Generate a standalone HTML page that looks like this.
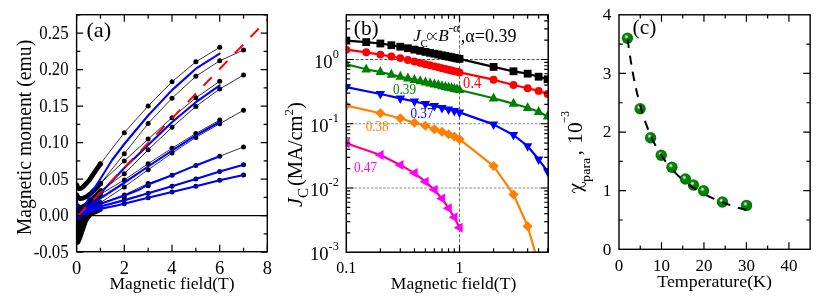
<!DOCTYPE html>
<html><head><meta charset="utf-8"><title>fig</title>
<style>
html,body{margin:0;padding:0;background:#fff;}
body{width:830px;height:297px;overflow:hidden;font-family:"Liberation Serif",serif;}
svg{display:block;will-change:transform;}
svg text{font-family:"Liberation Serif",serif;}
</style></head><body>
<svg width="830" height="297" viewBox="0 0 830 297">

<g id="pa">
<line x1="76.6" y1="215.6" x2="267.3" y2="215.6" stroke="#000" stroke-width="1.1"/>
<clipPath id="ca"><rect x="76.6" y="14.7" width="190.70000000000002" height="237.0"/></clipPath>
<g clip-path="url(#ca)">
<path d="M76.6,215 L94,213.8 L91.1,216.9 L87.7,221.9 L86,227 L84.3,232 L82.6,237.1 L81,241.3 L79.5,244 L78,244.9 L76.6,244.3 Z" fill="#000"/>
<path d="M76.90,185.00 L77.60,187.50 L79.00,188.70 L81.00,188.30 L83.50,186.30 L86.50,183.20 L89.40,180.00 L94.50,172.30 L100.40,163.90" fill="none" stroke="#000" stroke-width="4.8" stroke-linejoin="round" stroke-linecap="round" />
<path d="M76.90,195.00 L78.00,197.50 L80.00,198.60 L83.00,198.20 L87.00,196.30 L90.90,193.50 L95.50,188.80 L100.50,183.30" fill="none" stroke="#000" stroke-width="4.8" stroke-linejoin="round" stroke-linecap="round" />
<path d="M77.50,205.60 L79.00,207.10 L81.50,207.30 L84.50,205.90 L88.00,203.20 L93.40,198.20 L97.00,194.60 L101.00,190.80" fill="none" stroke="#000" stroke-width="4.8" stroke-linejoin="round" stroke-linecap="round" />
<path d="M78.00,216.00 L82.00,213.50 L85.00,210.50 L88.00,207.00 L92.00,203.20 L96.00,199.50 L100.50,194.60" fill="none" stroke="#000" stroke-width="4.8" stroke-linejoin="round" stroke-linecap="round" />
<path d="M80.00,216.00 L84.00,212.80 L88.00,209.50 L92.00,206.80 L96.00,204.60 L100.00,202.60" fill="none" stroke="#000" stroke-width="4.8" stroke-linejoin="round" stroke-linecap="round" />
<path d="M84.00,217.00 L90.00,214.00 L95.00,212.00 L100.00,209.80" fill="none" stroke="#000" stroke-width="4.8" stroke-linejoin="round" stroke-linecap="round" />
<path d="M77.50,209.00 L78.50,211.60 L80.50,212.30 L83.00,210.80 L86.00,208.00" fill="none" stroke="#000" stroke-width="4.8" stroke-linejoin="round" stroke-linecap="round" />
<path d="M100.40,163.90 L124.30,132.70 L148.15,106.00 L172.00,81.80 L195.85,61.85 L219.70,47.35" fill="none" stroke="#000" stroke-width="0.8" stroke-linejoin="round" stroke-linecap="round" />
<path d="M100.50,183.60 L124.30,153.70 L148.15,123.50 L172.00,98.20 L195.85,76.30 L219.70,60.80 L243.55,50.00" fill="none" stroke="#000" stroke-width="0.8" stroke-linejoin="round" stroke-linecap="round" />
<path d="M100.50,183.20 L124.30,160.90 L148.15,139.10 L172.00,117.65 L195.85,97.80 L219.70,81.30" fill="none" stroke="#000" stroke-width="0.8" stroke-linejoin="round" stroke-linecap="round" />
<path d="M101.00,190.80 L124.30,173.80 L148.15,149.80 L172.00,127.30 L195.85,106.40 L219.70,89.00 L243.55,75.00" fill="none" stroke="#000" stroke-width="0.8" stroke-linejoin="round" stroke-linecap="round" />
<path d="M100.50,194.20 L124.30,179.90 L148.15,163.70 L172.00,148.20 L195.85,133.50 L219.70,120.10" fill="none" stroke="#000" stroke-width="0.8" stroke-linejoin="round" stroke-linecap="round" />
<path d="M100.20,202.80 L124.30,186.90 L148.15,169.70 L172.00,153.10 L195.85,137.40 L219.70,123.70 L243.55,110.30" fill="none" stroke="#000" stroke-width="0.8" stroke-linejoin="round" stroke-linecap="round" />
<path d="M100.00,204.00 L124.30,194.90 L148.15,183.50 L172.00,175.20 L195.85,165.40 L219.70,156.25 L243.55,146.90" fill="none" stroke="#000" stroke-width="0.8" stroke-linejoin="round" stroke-linecap="round" />
<path d="M100.00,206.60 L124.30,199.40 L148.15,193.20 L172.00,186.30 L195.85,178.90 L219.70,171.60 L243.55,164.75" fill="none" stroke="#000" stroke-width="0.8" stroke-linejoin="round" stroke-linecap="round" />
<path d="M100.00,208.90 L124.30,203.80 L148.15,197.70 L172.00,191.90 L195.85,186.30 L219.70,180.20 L243.55,174.90" fill="none" stroke="#000" stroke-width="0.8" stroke-linejoin="round" stroke-linecap="round" />
<circle cx="100.40" cy="163.90" r="2.5" fill="#000"/>
<circle cx="124.30" cy="132.70" r="2.5" fill="#000"/>
<circle cx="148.15" cy="106.00" r="2.5" fill="#000"/>
<circle cx="172.00" cy="81.80" r="2.5" fill="#000"/>
<circle cx="195.85" cy="61.85" r="2.5" fill="#000"/>
<circle cx="219.70" cy="47.35" r="2.5" fill="#000"/>
<circle cx="100.50" cy="183.60" r="2.5" fill="#000"/>
<circle cx="124.30" cy="153.70" r="2.5" fill="#000"/>
<circle cx="148.15" cy="123.50" r="2.5" fill="#000"/>
<circle cx="172.00" cy="98.20" r="2.5" fill="#000"/>
<circle cx="195.85" cy="76.30" r="2.5" fill="#000"/>
<circle cx="219.70" cy="60.80" r="2.5" fill="#000"/>
<circle cx="243.55" cy="50.00" r="2.5" fill="#000"/>
<circle cx="100.50" cy="183.20" r="2.5" fill="#000"/>
<circle cx="124.30" cy="160.90" r="2.5" fill="#000"/>
<circle cx="148.15" cy="139.10" r="2.5" fill="#000"/>
<circle cx="172.00" cy="117.65" r="2.5" fill="#000"/>
<circle cx="195.85" cy="97.80" r="2.5" fill="#000"/>
<circle cx="219.70" cy="81.30" r="2.5" fill="#000"/>
<circle cx="101.00" cy="190.80" r="2.5" fill="#000"/>
<circle cx="124.30" cy="173.80" r="2.5" fill="#000"/>
<circle cx="148.15" cy="149.80" r="2.5" fill="#000"/>
<circle cx="172.00" cy="127.30" r="2.5" fill="#000"/>
<circle cx="195.85" cy="106.40" r="2.5" fill="#000"/>
<circle cx="219.70" cy="89.00" r="2.5" fill="#000"/>
<circle cx="243.55" cy="75.00" r="2.5" fill="#000"/>
<circle cx="100.50" cy="194.20" r="2.5" fill="#000"/>
<circle cx="124.30" cy="179.90" r="2.5" fill="#000"/>
<circle cx="148.15" cy="163.70" r="2.5" fill="#000"/>
<circle cx="172.00" cy="148.20" r="2.5" fill="#000"/>
<circle cx="195.85" cy="133.50" r="2.5" fill="#000"/>
<circle cx="219.70" cy="120.10" r="2.5" fill="#000"/>
<circle cx="100.20" cy="202.80" r="2.5" fill="#000"/>
<circle cx="124.30" cy="186.90" r="2.5" fill="#000"/>
<circle cx="148.15" cy="169.70" r="2.5" fill="#000"/>
<circle cx="172.00" cy="153.10" r="2.5" fill="#000"/>
<circle cx="195.85" cy="137.40" r="2.5" fill="#000"/>
<circle cx="219.70" cy="123.70" r="2.5" fill="#000"/>
<circle cx="243.55" cy="110.30" r="2.5" fill="#000"/>
<circle cx="100.00" cy="204.00" r="2.5" fill="#000"/>
<circle cx="124.30" cy="194.90" r="2.5" fill="#000"/>
<circle cx="148.15" cy="183.50" r="2.5" fill="#000"/>
<circle cx="172.00" cy="175.20" r="2.5" fill="#000"/>
<circle cx="195.85" cy="165.40" r="2.5" fill="#000"/>
<circle cx="219.70" cy="156.25" r="2.5" fill="#000"/>
<circle cx="243.55" cy="146.90" r="2.5" fill="#000"/>
<circle cx="100.00" cy="206.60" r="2.5" fill="#000"/>
<circle cx="124.30" cy="199.40" r="2.5" fill="#000"/>
<circle cx="148.15" cy="193.20" r="2.5" fill="#000"/>
<circle cx="172.00" cy="186.30" r="2.5" fill="#000"/>
<circle cx="195.85" cy="178.90" r="2.5" fill="#000"/>
<circle cx="219.70" cy="171.60" r="2.5" fill="#000"/>
<circle cx="243.55" cy="164.75" r="2.5" fill="#000"/>
<circle cx="100.00" cy="208.90" r="2.5" fill="#000"/>
<circle cx="124.30" cy="203.80" r="2.5" fill="#000"/>
<circle cx="148.15" cy="197.70" r="2.5" fill="#000"/>
<circle cx="172.00" cy="191.90" r="2.5" fill="#000"/>
<circle cx="195.85" cy="186.30" r="2.5" fill="#000"/>
<circle cx="219.70" cy="180.20" r="2.5" fill="#000"/>
<circle cx="243.55" cy="174.90" r="2.5" fill="#000"/>
<circle cx="148.15" cy="185.70" r="2.5" fill="#000"/>
<circle cx="124.30" cy="196.40" r="2.5" fill="#000"/>
<path d="M77.10,200.00 L77.30,210.00 L77.60,218.80" fill="none" stroke="#0000ff" stroke-width="2.0" stroke-linejoin="round" stroke-linecap="round" />
<path d="M77.60,218.80 L88.50,199.00 L97.10,184.00 L99.70,180.00 L112.10,160.00 L124.30,144.00 L148.15,115.50 L172.00,90.10 L195.85,68.70 L219.70,53.70" fill="none" stroke="#0000ff" stroke-width="2.1" stroke-linejoin="round" stroke-linecap="round" />
<path d="M77.60,218.80 L100.45,193.30 L124.30,168.00 L148.15,144.90 L172.00,122.20 L195.85,102.20 L219.70,85.30" fill="none" stroke="#0000ff" stroke-width="2.1" stroke-linejoin="round" stroke-linecap="round" />
<path d="M77.60,218.80 L88.00,208.60 L100.00,198.70 L122.40,184.00 L148.15,166.50 L172.00,150.60 L195.85,135.30 L219.70,122.00" fill="none" stroke="#0000ff" stroke-width="2.1" stroke-linejoin="round" stroke-linecap="round" />
<path d="M77.60,218.80 L82.10,214.60 L88.00,210.30 L92.20,208.00 L100.00,204.00 L118.00,197.80 L123.90,195.80 L139.00,189.80 L148.15,184.40 L172.00,175.20 L195.85,165.40 L219.70,156.25" fill="none" stroke="#0000ff" stroke-width="2.1" stroke-linejoin="round" stroke-linecap="round" />
<path d="M77.60,218.80 L82.10,215.00 L88.00,211.20 L92.20,209.40 L100.00,206.60 L118.00,202.10 L123.90,200.60 L148.15,193.20 L172.00,186.30 L195.85,178.90 L219.70,171.60 L243.55,164.75" fill="none" stroke="#0000ff" stroke-width="2.1" stroke-linejoin="round" stroke-linecap="round" />
<path d="M77.60,218.80 L82.10,215.40 L88.00,212.30 L92.20,211.00 L100.00,208.90 L118.00,205.20 L123.90,203.80 L148.15,197.70 L172.00,191.90 L195.85,186.30 L219.70,180.20 L243.55,174.90" fill="none" stroke="#0000ff" stroke-width="2.1" stroke-linejoin="round" stroke-linecap="round" />
<line x1="77.8" y1="215.8" x2="267.2" y2="19.8" stroke="#ff0000" stroke-width="1.9" stroke-dasharray="11.9 10.7"/>
</g>
<rect x="76.6" y="14.7" width="190.70000000000002" height="237.0" fill="none" stroke="#000" stroke-width="1.4"/>
<path d="M76.60,251.7 v-7 M76.60,14.7 v7 M100.45,251.7 v-4 M100.45,14.7 v4 M124.30,251.7 v-7 M124.30,14.7 v7 M148.15,251.7 v-4 M148.15,14.7 v4 M172.00,251.7 v-7 M172.00,14.7 v7 M195.85,251.7 v-4 M195.85,14.7 v4 M219.70,251.7 v-7 M219.70,14.7 v7 M243.55,251.7 v-4 M243.55,14.7 v4 M267.40,251.7 v-7 M267.40,14.7 v7 M76.6,252.10 h6.6 M267.3,252.10 h-6.6 M76.6,233.85 h3.7 M267.3,233.85 h-3.7 M76.6,215.60 h6.6 M267.3,215.60 h-6.6 M76.6,197.35 h3.7 M267.3,197.35 h-3.7 M76.6,179.10 h6.6 M267.3,179.10 h-6.6 M76.6,160.85 h3.7 M267.3,160.85 h-3.7 M76.6,142.60 h6.6 M267.3,142.60 h-6.6 M76.6,124.35 h3.7 M267.3,124.35 h-3.7 M76.6,106.10 h6.6 M267.3,106.10 h-6.6 M76.6,87.85 h3.7 M267.3,87.85 h-3.7 M76.6,69.60 h6.6 M267.3,69.60 h-6.6 M76.6,51.35 h3.7 M267.3,51.35 h-3.7 M76.6,33.10 h6.6 M267.3,33.10 h-6.6 M76.6,14.85 h3.7 M267.3,14.85 h-3.7" stroke="#000" stroke-width="1.2" fill="none"/>
<text transform="translate(68.60,257.70) scale(0.97,1.07)" font-size="17.3" text-anchor="end" fill="#000" >-0.05</text>
<text transform="translate(68.60,221.20) scale(0.97,1.07)" font-size="17.3" text-anchor="end" fill="#000" >0.00</text>
<text transform="translate(68.60,184.70) scale(0.97,1.07)" font-size="17.3" text-anchor="end" fill="#000" >0.05</text>
<text transform="translate(68.60,148.20) scale(0.97,1.07)" font-size="17.3" text-anchor="end" fill="#000" >0.10</text>
<text transform="translate(68.60,111.70) scale(0.97,1.07)" font-size="17.3" text-anchor="end" fill="#000" >0.15</text>
<text transform="translate(68.60,75.20) scale(0.97,1.07)" font-size="17.3" text-anchor="end" fill="#000" >0.20</text>
<text transform="translate(68.60,38.70) scale(0.97,1.07)" font-size="17.3" text-anchor="end" fill="#000" >0.25</text>
<text transform="translate(76.60,273.90) scale(1.07,1.09)" font-size="17.3" text-anchor="middle" fill="#000" >0</text>
<text transform="translate(124.30,273.90) scale(1.07,1.09)" font-size="17.3" text-anchor="middle" fill="#000" >2</text>
<text transform="translate(172.00,273.90) scale(1.07,1.09)" font-size="17.3" text-anchor="middle" fill="#000" >4</text>
<text transform="translate(219.70,273.90) scale(1.07,1.09)" font-size="17.3" text-anchor="middle" fill="#000" >6</text>
<text transform="translate(267.40,273.90) scale(1.07,1.09)" font-size="17.3" text-anchor="middle" fill="#000" >8</text>
<text transform="translate(109.40,288.80) scale(1,1)" font-size="17.3" text-anchor="start" fill="#000" textLength="125.3" lengthAdjust="spacingAndGlyphs" >Magnetic field(T)</text>
<text transform="translate(30.6,235.3) rotate(-90)" font-size="20" textLength="195.5" lengthAdjust="spacingAndGlyphs">Magnetic moment (emu)</text>
<text transform="translate(86.40,37.40) scale(1.1,1)" font-size="20.4" text-anchor="start" fill="#000" >(a)</text>
</g>
<g id="pb">
<path d="M346.3,59.50 H548.2" stroke="#222" stroke-width="0.8" stroke-dasharray="3 1.75" fill="none"/>
<path d="M346.3,123.75 H548.2 M346.3,188.00 H548.2" stroke="#868686" stroke-width="1.2" stroke-dasharray="2.5 1.6" fill="none"/>
<path d="M459.50,14.8 V252.2" stroke="#2a2a2a" stroke-width="0.7" stroke-dasharray="3.2 1.9" fill="none"/>
<clipPath id="cb"><rect x="345.8" y="14.8" width="203.10000000000002" height="237.39999999999998"/></clipPath>
<g clip-path="url(#cb)">
<path d="M346.30,143.20 L380.38,155.00 L400.31,164.90 L414.45,173.10 L425.42,181.70 L434.39,189.80 L441.97,198.60 L448.53,208.20 L454.32,217.30 L459.50,227.70" fill="none" stroke="#ff0080" stroke-width="2.2" stroke-linejoin="round" stroke-linecap="round" />
<path d="M340.50,143.20 L349.50,138.20 L349.50,148.20 Z" fill="#ff00ff"/>
<path d="M374.58,155.00 L383.58,150.00 L383.58,160.00 Z" fill="#ff00ff"/>
<path d="M394.51,164.90 L403.51,159.90 L403.51,169.90 Z" fill="#ff00ff"/>
<path d="M408.65,173.10 L417.65,168.10 L417.65,178.10 Z" fill="#ff00ff"/>
<path d="M419.62,181.70 L428.62,176.70 L428.62,186.70 Z" fill="#ff00ff"/>
<path d="M428.59,189.80 L437.59,184.80 L437.59,194.80 Z" fill="#ff00ff"/>
<path d="M436.17,198.60 L445.17,193.60 L445.17,203.60 Z" fill="#ff00ff"/>
<path d="M442.73,208.20 L451.73,203.20 L451.73,213.20 Z" fill="#ff00ff"/>
<path d="M448.52,217.30 L457.52,212.30 L457.52,222.30 Z" fill="#ff00ff"/>
<path d="M453.70,227.70 L462.70,222.70 L462.70,232.70 Z" fill="#ff00ff"/>
<path d="M346.30,105.60 L380.38,113.20 L400.31,118.20 L414.45,122.70 L425.42,125.70 L434.39,129.20 L441.97,131.80 L448.53,134.30 L454.32,136.60 L459.50,139.20 L493.58,166.10 L513.51,194.40 L527.65,226.30 L535.10,252.20" fill="none" stroke="#ff8000" stroke-width="2.2" stroke-linejoin="round" stroke-linecap="round" />
<path d="M346.30,100.60 L351.50,105.60 L346.30,110.60 L341.10,105.60 Z" fill="#ff8000"/>
<path d="M380.38,108.20 L385.58,113.20 L380.38,118.20 L375.18,113.20 Z" fill="#ff8000"/>
<path d="M400.31,113.20 L405.51,118.20 L400.31,123.20 L395.11,118.20 Z" fill="#ff8000"/>
<path d="M414.45,117.70 L419.65,122.70 L414.45,127.70 L409.25,122.70 Z" fill="#ff8000"/>
<path d="M425.42,120.70 L430.62,125.70 L425.42,130.70 L420.22,125.70 Z" fill="#ff8000"/>
<path d="M434.39,124.20 L439.59,129.20 L434.39,134.20 L429.19,129.20 Z" fill="#ff8000"/>
<path d="M441.97,126.80 L447.17,131.80 L441.97,136.80 L436.77,131.80 Z" fill="#ff8000"/>
<path d="M448.53,129.30 L453.73,134.30 L448.53,139.30 L443.33,134.30 Z" fill="#ff8000"/>
<path d="M454.32,131.60 L459.52,136.60 L454.32,141.60 L449.12,136.60 Z" fill="#ff8000"/>
<path d="M459.50,134.20 L464.70,139.20 L459.50,144.20 L454.30,139.20 Z" fill="#ff8000"/>
<path d="M493.58,161.10 L498.78,166.10 L493.58,171.10 L488.38,166.10 Z" fill="#ff8000"/>
<path d="M513.51,189.40 L518.71,194.40 L513.51,199.40 L508.31,194.40 Z" fill="#ff8000"/>
<path d="M527.65,221.30 L532.85,226.30 L527.65,231.30 L522.45,226.30 Z" fill="#ff8000"/>
<path d="M346.30,87.20 L380.38,94.00 L400.31,98.40 L414.45,101.50 L425.42,103.90 L434.39,106.00 L441.97,108.00 L448.53,109.50 L454.32,111.00 L459.50,112.40 L493.58,124.40 L513.51,135.00 L527.65,146.20 L538.62,159.30 L547.59,171.50" fill="none" stroke="#0000ff" stroke-width="2.2" stroke-linejoin="round" stroke-linecap="round" />
<path d="M346.30,92.80 L351.00,84.30 L341.60,84.30 Z" fill="#0000ff"/>
<path d="M380.38,99.60 L385.08,91.10 L375.68,91.10 Z" fill="#0000ff"/>
<path d="M400.31,104.00 L405.01,95.50 L395.61,95.50 Z" fill="#0000ff"/>
<path d="M414.45,107.10 L419.15,98.60 L409.75,98.60 Z" fill="#0000ff"/>
<path d="M425.42,109.50 L430.12,101.00 L420.72,101.00 Z" fill="#0000ff"/>
<path d="M434.39,111.60 L439.09,103.10 L429.69,103.10 Z" fill="#0000ff"/>
<path d="M441.97,113.60 L446.67,105.10 L437.27,105.10 Z" fill="#0000ff"/>
<path d="M448.53,115.10 L453.23,106.60 L443.83,106.60 Z" fill="#0000ff"/>
<path d="M454.32,116.60 L459.02,108.10 L449.62,108.10 Z" fill="#0000ff"/>
<path d="M459.50,118.00 L464.20,109.50 L454.80,109.50 Z" fill="#0000ff"/>
<path d="M493.58,130.00 L498.28,121.50 L488.88,121.50 Z" fill="#0000ff"/>
<path d="M513.51,140.60 L518.21,132.10 L508.81,132.10 Z" fill="#0000ff"/>
<path d="M527.65,151.80 L532.35,143.30 L522.95,143.30 Z" fill="#0000ff"/>
<path d="M538.62,164.90 L543.32,156.40 L533.92,156.40 Z" fill="#0000ff"/>
<path d="M547.59,177.10 L552.29,168.60 L542.89,168.60 Z" fill="#0000ff"/>
<path d="M346.30,64.20 L366.23,69.30 L380.38,72.00 L391.35,74.60 L400.31,76.70 L407.89,78.40 L414.45,79.88 L420.24,81.18 L425.42,82.34 L430.11,83.40 L434.39,84.36 L438.32,85.24 L441.97,86.06 L445.36,86.82 L448.53,87.53 L451.51,88.20 L454.32,88.84 L456.98,89.43 L459.50,90.00 L493.58,98.30 L513.51,103.70 L527.65,107.80 L538.62,111.80 L547.59,116.50" fill="none" stroke="#008000" stroke-width="2.2" stroke-linejoin="round" stroke-linecap="round" />
<path d="M346.30,58.30 L351.10,67.30 L341.50,67.30 Z" fill="#008000"/>
<path d="M366.23,63.40 L371.03,72.40 L361.43,72.40 Z" fill="#008000"/>
<path d="M380.38,66.10 L385.18,75.10 L375.58,75.10 Z" fill="#008000"/>
<path d="M391.35,68.70 L396.15,77.70 L386.55,77.70 Z" fill="#008000"/>
<path d="M400.31,70.80 L405.11,79.80 L395.51,79.80 Z" fill="#008000"/>
<path d="M407.89,72.50 L412.69,81.50 L403.09,81.50 Z" fill="#008000"/>
<path d="M414.45,73.98 L419.25,82.98 L409.65,82.98 Z" fill="#008000"/>
<path d="M420.24,75.28 L425.04,84.28 L415.44,84.28 Z" fill="#008000"/>
<path d="M425.42,76.44 L430.22,85.44 L420.62,85.44 Z" fill="#008000"/>
<path d="M430.11,77.50 L434.91,86.50 L425.31,86.50 Z" fill="#008000"/>
<path d="M434.39,78.46 L439.19,87.46 L429.59,87.46 Z" fill="#008000"/>
<path d="M438.32,79.34 L443.12,88.34 L433.52,88.34 Z" fill="#008000"/>
<path d="M441.97,80.16 L446.77,89.16 L437.17,89.16 Z" fill="#008000"/>
<path d="M445.36,80.92 L450.16,89.92 L440.56,89.92 Z" fill="#008000"/>
<path d="M448.53,81.63 L453.33,90.63 L443.73,90.63 Z" fill="#008000"/>
<path d="M451.51,82.30 L456.31,91.30 L446.71,91.30 Z" fill="#008000"/>
<path d="M454.32,82.94 L459.12,91.94 L449.52,91.94 Z" fill="#008000"/>
<path d="M456.98,83.53 L461.78,92.53 L452.18,92.53 Z" fill="#008000"/>
<path d="M459.50,84.10 L464.30,93.10 L454.70,93.10 Z" fill="#008000"/>
<path d="M493.58,92.40 L498.38,101.40 L488.78,101.40 Z" fill="#008000"/>
<path d="M513.51,97.80 L518.31,106.80 L508.71,106.80 Z" fill="#008000"/>
<path d="M527.65,101.90 L532.45,110.90 L522.85,110.90 Z" fill="#008000"/>
<path d="M538.62,105.90 L543.42,114.90 L533.82,114.90 Z" fill="#008000"/>
<path d="M547.59,110.60 L552.39,119.60 L542.79,119.60 Z" fill="#008000"/>
<path d="M346.30,49.70 L366.23,52.30 L380.38,54.60 L391.35,56.50 L400.31,58.10 L407.89,59.93 L414.45,61.52 L420.24,62.92 L425.42,64.17 L430.11,65.30 L434.39,66.33 L438.32,67.28 L441.97,68.16 L445.36,68.98 L448.53,69.75 L451.51,70.47 L454.32,71.15 L456.98,71.79 L459.50,72.40 L493.58,79.70 L513.51,85.00 L527.65,88.20 L538.62,90.90 L547.59,94.00" fill="none" stroke="#ff0000" stroke-width="2.2" stroke-linejoin="round" stroke-linecap="round" />
<circle cx="346.30" cy="49.70" r="3.95" fill="#ff0000"/>
<circle cx="366.23" cy="52.30" r="3.95" fill="#ff0000"/>
<circle cx="380.38" cy="54.60" r="3.95" fill="#ff0000"/>
<circle cx="391.35" cy="56.50" r="3.95" fill="#ff0000"/>
<circle cx="400.31" cy="58.10" r="3.95" fill="#ff0000"/>
<circle cx="407.89" cy="59.93" r="3.95" fill="#ff0000"/>
<circle cx="414.45" cy="61.52" r="3.95" fill="#ff0000"/>
<circle cx="420.24" cy="62.92" r="3.95" fill="#ff0000"/>
<circle cx="425.42" cy="64.17" r="3.95" fill="#ff0000"/>
<circle cx="430.11" cy="65.30" r="3.95" fill="#ff0000"/>
<circle cx="434.39" cy="66.33" r="3.95" fill="#ff0000"/>
<circle cx="438.32" cy="67.28" r="3.95" fill="#ff0000"/>
<circle cx="441.97" cy="68.16" r="3.95" fill="#ff0000"/>
<circle cx="445.36" cy="68.98" r="3.95" fill="#ff0000"/>
<circle cx="448.53" cy="69.75" r="3.95" fill="#ff0000"/>
<circle cx="451.51" cy="70.47" r="3.95" fill="#ff0000"/>
<circle cx="454.32" cy="71.15" r="3.95" fill="#ff0000"/>
<circle cx="456.98" cy="71.79" r="3.95" fill="#ff0000"/>
<circle cx="459.50" cy="72.40" r="3.95" fill="#ff0000"/>
<circle cx="493.58" cy="79.70" r="3.95" fill="#ff0000"/>
<circle cx="513.51" cy="85.00" r="3.95" fill="#ff0000"/>
<circle cx="527.65" cy="88.20" r="3.95" fill="#ff0000"/>
<circle cx="538.62" cy="90.90" r="3.95" fill="#ff0000"/>
<circle cx="547.59" cy="94.00" r="3.95" fill="#ff0000"/>
<path d="M346.30,40.60 L366.23,42.10 L380.38,43.50 L391.35,45.20 L400.31,46.70 L407.89,48.26 L414.45,49.62 L420.24,50.81 L425.42,51.88 L430.11,52.84 L434.39,53.72 L438.32,54.53 L441.97,55.29 L445.36,55.98 L448.53,56.64 L451.51,57.25 L454.32,57.83 L456.98,58.38 L459.50,58.90 L493.58,66.90 L513.51,71.30 L527.65,73.70 L538.62,76.70 L547.59,79.30" fill="none" stroke="#000" stroke-width="2.2" stroke-linejoin="round" stroke-linecap="round" />
<rect x="342.40" y="36.70" width="7.8" height="7.8" fill="#000"/>
<rect x="362.33" y="38.20" width="7.8" height="7.8" fill="#000"/>
<rect x="376.48" y="39.60" width="7.8" height="7.8" fill="#000"/>
<rect x="387.45" y="41.30" width="7.8" height="7.8" fill="#000"/>
<rect x="396.41" y="42.80" width="7.8" height="7.8" fill="#000"/>
<rect x="403.99" y="44.36" width="7.8" height="7.8" fill="#000"/>
<rect x="410.55" y="45.72" width="7.8" height="7.8" fill="#000"/>
<rect x="416.34" y="46.91" width="7.8" height="7.8" fill="#000"/>
<rect x="421.52" y="47.98" width="7.8" height="7.8" fill="#000"/>
<rect x="426.21" y="48.94" width="7.8" height="7.8" fill="#000"/>
<rect x="430.49" y="49.82" width="7.8" height="7.8" fill="#000"/>
<rect x="434.42" y="50.63" width="7.8" height="7.8" fill="#000"/>
<rect x="438.07" y="51.39" width="7.8" height="7.8" fill="#000"/>
<rect x="441.46" y="52.08" width="7.8" height="7.8" fill="#000"/>
<rect x="444.63" y="52.74" width="7.8" height="7.8" fill="#000"/>
<rect x="447.61" y="53.35" width="7.8" height="7.8" fill="#000"/>
<rect x="450.42" y="53.93" width="7.8" height="7.8" fill="#000"/>
<rect x="453.08" y="54.48" width="7.8" height="7.8" fill="#000"/>
<rect x="455.60" y="55.00" width="7.8" height="7.8" fill="#000"/>
<rect x="489.68" y="63.00" width="7.8" height="7.8" fill="#000"/>
<rect x="509.61" y="67.40" width="7.8" height="7.8" fill="#000"/>
<rect x="523.75" y="69.80" width="7.8" height="7.8" fill="#000"/>
<rect x="534.72" y="72.80" width="7.8" height="7.8" fill="#000"/>
<rect x="543.69" y="75.40" width="7.8" height="7.8" fill="#000"/>
</g>
<rect x="346.3" y="14.8" width="201.90000000000003" height="237.39999999999998" fill="none" stroke="#000" stroke-width="1.5"/>
<path d="M380.38,252.2 v-4 M380.38,14.8 v4 M400.31,252.2 v-4 M400.31,14.8 v4 M414.45,252.2 v-4 M414.45,14.8 v4 M425.42,252.2 v-4 M425.42,14.8 v4 M434.39,252.2 v-4 M434.39,14.8 v4 M441.97,252.2 v-4 M441.97,14.8 v4 M448.53,252.2 v-4 M448.53,14.8 v4 M454.32,252.2 v-4 M454.32,14.8 v4 M459.50,252.2 v-6.8 M459.50,14.8 v6.8 M493.58,252.2 v-4 M493.58,14.8 v4 M513.51,252.2 v-4 M513.51,14.8 v4 M527.65,252.2 v-4 M527.65,14.8 v4 M538.62,252.2 v-4 M538.62,14.8 v4 M547.59,252.2 v-4 M547.59,14.8 v4 M346.3,232.91 h4 M548.2,232.91 h-4 M346.3,221.59 h4 M548.2,221.59 h-4 M346.3,213.57 h4 M548.2,213.57 h-4 M346.3,207.34 h4 M548.2,207.34 h-4 M346.3,202.25 h4 M548.2,202.25 h-4 M346.3,197.95 h4 M548.2,197.95 h-4 M346.3,194.23 h4 M548.2,194.23 h-4 M346.3,190.94 h4 M548.2,190.94 h-4 M346.3,188.00 h7.2 M548.2,188.00 h-7.2 M346.3,168.66 h4 M548.2,168.66 h-4 M346.3,157.34 h4 M548.2,157.34 h-4 M346.3,149.32 h4 M548.2,149.32 h-4 M346.3,143.09 h4 M548.2,143.09 h-4 M346.3,138.00 h4 M548.2,138.00 h-4 M346.3,133.70 h4 M548.2,133.70 h-4 M346.3,129.98 h4 M548.2,129.98 h-4 M346.3,126.69 h4 M548.2,126.69 h-4 M346.3,123.75 h7.2 M548.2,123.75 h-7.2 M346.3,104.41 h4 M548.2,104.41 h-4 M346.3,93.09 h4 M548.2,93.09 h-4 M346.3,85.07 h4 M548.2,85.07 h-4 M346.3,78.84 h4 M548.2,78.84 h-4 M346.3,73.75 h4 M548.2,73.75 h-4 M346.3,69.45 h4 M548.2,69.45 h-4 M346.3,65.73 h4 M548.2,65.73 h-4 M346.3,62.44 h4 M548.2,62.44 h-4 M346.3,59.50 h7.2 M548.2,59.50 h-7.2 M346.3,40.16 h4 M548.2,40.16 h-4 M346.3,28.84 h4 M548.2,28.84 h-4 M346.3,20.82 h4 M548.2,20.82 h-4" stroke="#000" stroke-width="1.2" fill="none"/>
<text x="338.8" y="67.50" font-size="18.6" text-anchor="end">10<tspan font-size="12.3" dy="-9.8">0</tspan></text>
<text x="338.8" y="131.75" font-size="18.6" text-anchor="end">10<tspan font-size="12.3" dy="-9.8">-1</tspan></text>
<text x="338.8" y="196.00" font-size="18.6" text-anchor="end">10<tspan font-size="12.3" dy="-9.8">-2</tspan></text>
<text x="338.8" y="260.25" font-size="18.6" text-anchor="end">10<tspan font-size="12.3" dy="-9.8">-3</tspan></text>
<text transform="translate(346.30,272.80) scale(1,1.08)" font-size="16" text-anchor="middle" fill="#000" >0.1</text>
<text transform="translate(459.50,272.60) scale(1,1.08)" font-size="16" text-anchor="middle" fill="#000" >1</text>
<text transform="translate(390.80,289.00) scale(1,1)" font-size="17.3" text-anchor="start" fill="#000" textLength="125.5" lengthAdjust="spacingAndGlyphs" >Magnetic field(T)</text>
<text transform="translate(353.80,34.70) scale(1,1)" font-size="20.5" text-anchor="start" fill="#000" textLength="24.9" lengthAdjust="spacingAndGlyphs" >(b)</text>
<text transform="translate(463.10,88.40) scale(1,1.17)" font-size="13.4" text-anchor="start" fill="#ff0000" textLength="18.2" lengthAdjust="spacingAndGlyphs" >0.4</text>
<text transform="translate(393.00,93.50) scale(1,1.17)" font-size="13" text-anchor="start" fill="#008000" textLength="23" lengthAdjust="spacingAndGlyphs" >0.39</text>
<text transform="translate(410.50,117.60) scale(1,1.17)" font-size="13" text-anchor="start" fill="#0000ff" textLength="23" lengthAdjust="spacingAndGlyphs" >0.37</text>
<text transform="translate(365.80,130.80) scale(1,1.17)" font-size="13" text-anchor="start" fill="#ff8000" textLength="22.8" lengthAdjust="spacingAndGlyphs" >0.38</text>
<text transform="translate(354.00,171.70) scale(1,1.17)" font-size="13" text-anchor="start" fill="#ff00ff" textLength="23" lengthAdjust="spacingAndGlyphs" >0.47</text>
<text x="413.3" y="41.3" font-size="17.2" font-style="italic">J</text>
<text x="420.4" y="47.2" font-size="11">C</text>
<path d="M436.9,33.1 C433.4,33.1 432,39.6 429.7,39.6 C428,39.6 427.4,37.8 427.4,36.35 C427.4,34.9 428,33.1 429.7,33.1 C432,33.1 433.4,39.6 436.9,39.6" fill="none" stroke="#000" stroke-width="0.95"/>
<text x="438.2" y="41.3" font-size="17.2" font-style="italic">B</text>
<text x="448.8" y="31.6" font-size="12.5">-α</text>
<text transform="translate(460.80,41.70) scale(1,1.07)" font-size="17.6" text-anchor="start" fill="#000" textLength="55.8" lengthAdjust="spacingAndGlyphs" >,α=0.39</text>
<text transform="translate(301.6,207.0) rotate(-90)" font-size="20.5"><tspan font-style="italic">J</tspan><tspan font-size="15" dy="6.5">C</tspan><tspan dy="-6.5" dx="1.8">(MA/cm</tspan><tspan font-size="13" dy="-8.5">2</tspan><tspan dy="8.5">)</tspan></text>
</g>
<g id="pc">
<defs><radialGradient id="sg" cx="0.42" cy="0.38" r="0.5" fx="0.40" fy="0.36"><stop offset="0" stop-color="#f4faf4"/><stop offset="0.10" stop-color="#d4ead4"/><stop offset="0.38" stop-color="#0c860c"/><stop offset="1" stop-color="#007a00"/></radialGradient></defs>
<circle cx="627.4" cy="38.2" r="5.7" fill="url(#sg)"/>
<circle cx="640.1" cy="108.7" r="5.7" fill="url(#sg)"/>
<circle cx="650.6" cy="137.8" r="5.7" fill="url(#sg)"/>
<circle cx="661.25" cy="155.3" r="5.7" fill="url(#sg)"/>
<circle cx="671.9" cy="167.2" r="5.7" fill="url(#sg)"/>
<circle cx="685.4" cy="179" r="5.7" fill="url(#sg)"/>
<circle cx="693.45" cy="185" r="5.7" fill="url(#sg)"/>
<circle cx="703.55" cy="190.8" r="5.7" fill="url(#sg)"/>
<circle cx="722.4" cy="202" r="5.7" fill="url(#sg)"/>
<circle cx="746.5" cy="205.4" r="5.7" fill="url(#sg)"/>
<path d="M627.50,38.27 L628.56,46.20 L629.62,53.56 L630.68,60.40 L631.74,66.79 L632.80,72.75 L633.87,78.34 L634.93,83.58 L635.99,88.51 L637.05,93.16 L638.11,97.55 L639.18,101.69 L640.24,105.62 L641.30,109.34 L642.36,112.88 L643.42,116.24 L644.49,119.43 L645.55,122.48 L646.61,125.39 L647.67,128.17 L648.73,130.83 L649.79,133.37 L650.86,135.80 L651.92,138.14 L652.98,140.38 L654.04,142.53 L655.10,144.60 L656.17,146.59 L657.23,148.51 L658.29,150.35 L659.35,152.13 L660.41,153.85 L661.48,155.51 L662.54,157.11 L663.60,158.66 L664.66,160.15 L665.72,161.60 L666.78,163.00 L667.85,164.36 L668.91,165.67 L669.97,166.95 L671.03,168.18 L672.09,169.38 L673.16,170.55 L674.22,171.68 L675.28,172.78 L676.34,173.85 L677.40,174.89 L678.47,175.90 L679.53,176.88 L680.59,177.84 L681.65,178.77 L682.71,179.68 L683.77,180.57 L684.84,181.43 L685.90,182.27 L686.96,183.09 L688.02,183.90 L689.08,184.68 L690.15,185.44 L691.21,186.19 L692.27,186.92 L693.33,187.63 L694.39,188.32 L695.46,189.01 L696.52,189.67 L697.58,190.32 L698.64,190.96 L699.70,191.58 L700.76,192.19 L701.83,192.79 L702.89,193.37 L703.95,193.95 L705.01,194.51 L706.07,195.06 L707.14,195.60 L708.20,196.13 L709.26,196.64 L710.32,197.15 L711.38,197.65 L712.44,198.14 L713.51,198.62 L714.57,199.09 L715.63,199.55 L716.69,200.01 L717.75,200.45 L718.82,200.89 L719.88,201.32 L720.94,201.74 L722.00,202.16 L723.06,202.57 L724.13,202.97 L725.19,203.36 L726.25,203.75 L727.31,204.13 L728.37,204.50 L729.43,204.87 L730.50,205.23 L731.56,205.59 L732.62,205.94 L733.68,206.29 L734.74,206.63 L735.81,206.96 L736.87,207.29 L737.93,207.61 L738.99,207.93 L740.05,208.25 L741.12,208.56 L742.18,208.86 L743.24,209.16 L744.30,209.46 L745.36,209.75 L746.42,210.04" fill="none" stroke="#000" stroke-width="2" stroke-dasharray="0 1.4 8.2 8.0 9.1 7.1 9.5 7.4 9.1 8.2 8.6 7.9 9.5 7.7 10.0 9.3 9.5 12.1 10.0 10.3 9.3 11.4 8.8 8.2 9.0 8.0 8.8 50"/>
<rect x="619.0" y="14.8" width="191.14999999999998" height="234.5" fill="none" stroke="#000" stroke-width="1.4"/>
<path d="M640.24,249.3 v-3.8 M640.24,14.8 v3.8 M661.48,249.3 v-7 M661.48,14.8 v7 M682.71,249.3 v-3.8 M682.71,14.8 v3.8 M703.95,249.3 v-7 M703.95,14.8 v7 M725.19,249.3 v-3.8 M725.19,14.8 v3.8 M746.42,249.3 v-7 M746.42,14.8 v7 M767.66,249.3 v-3.8 M767.66,14.8 v3.8 M788.90,249.3 v-7 M788.90,14.8 v7 M619.0,219.99 h3.8 M810.15,219.99 h-3.8 M619.0,190.68 h7 M810.15,190.68 h-7 M619.0,161.37 h3.8 M810.15,161.37 h-3.8 M619.0,132.06 h7 M810.15,132.06 h-7 M619.0,102.75 h3.8 M810.15,102.75 h-3.8 M619.0,73.44 h7 M810.15,73.44 h-7 M619.0,44.13 h3.8 M810.15,44.13 h-3.8" stroke="#000" stroke-width="1.2" fill="none"/>
<text transform="translate(611.40,254.70) scale(1.08,1.03)" font-size="16" text-anchor="end" fill="#000" >0</text>
<text transform="translate(611.40,196.08) scale(1.08,1.03)" font-size="16" text-anchor="end" fill="#000" >1</text>
<text transform="translate(611.40,137.46) scale(1.08,1.03)" font-size="16" text-anchor="end" fill="#000" >2</text>
<text transform="translate(611.40,78.84) scale(1.08,1.03)" font-size="16" text-anchor="end" fill="#000" >3</text>
<text transform="translate(611.40,20.22) scale(1.08,1.03)" font-size="16" text-anchor="end" fill="#000" >4</text>
<text transform="translate(619.00,270.50) scale(1.06,1.03)" font-size="16" text-anchor="middle" fill="#000" >0</text>
<text transform="translate(661.48,270.50) scale(1.06,1.03)" font-size="16" text-anchor="middle" fill="#000" >10</text>
<text transform="translate(703.95,270.50) scale(1.06,1.03)" font-size="16" text-anchor="middle" fill="#000" >20</text>
<text transform="translate(746.42,270.50) scale(1.06,1.03)" font-size="16" text-anchor="middle" fill="#000" >30</text>
<text transform="translate(788.90,270.50) scale(1.06,1.03)" font-size="16" text-anchor="middle" fill="#000" >40</text>
<text transform="translate(657.30,287.20) scale(1,1)" font-size="17.3" text-anchor="start" fill="#000" textLength="114.6" lengthAdjust="spacingAndGlyphs" >Temperature(K)</text>
<text transform="translate(632.50,33.80) scale(1,1)" font-size="20.5" text-anchor="start" fill="#000" textLength="23.8" lengthAdjust="spacingAndGlyphs" >(c)</text>
<path d="M571.9,183.9 L585.7,191.0" stroke="#000" stroke-width="1.7" fill="none" stroke-linecap="butt"/>
<path d="M574.9,192.6 C573.2,192.6 572.2,191.8 572.3,190.6 C572.4,189.3 574,188.9 576.1,188.4 C578,187.9 582,187 584.2,186.1 C585.4,185.6 585.8,184.6 585.5,183.8 C585.2,182.8 584,182.2 582.4,182.4" stroke="#000" stroke-width="1.0" fill="none" stroke-linecap="round"/>
<text transform="translate(590.4,181.9) rotate(-90)" font-size="12.3" textLength="24.3" lengthAdjust="spacingAndGlyphs">para</text>
<text transform="translate(581.2,155.3) rotate(-90)" font-size="20">,</text>
<text transform="translate(582.0,143.9) rotate(-90)" font-size="21.6">10</text>
<text transform="translate(569.1,123.2) rotate(-90)" font-size="13.2" textLength="12.3" lengthAdjust="spacingAndGlyphs">−3</text>
</g>
</svg>
</body></html>
